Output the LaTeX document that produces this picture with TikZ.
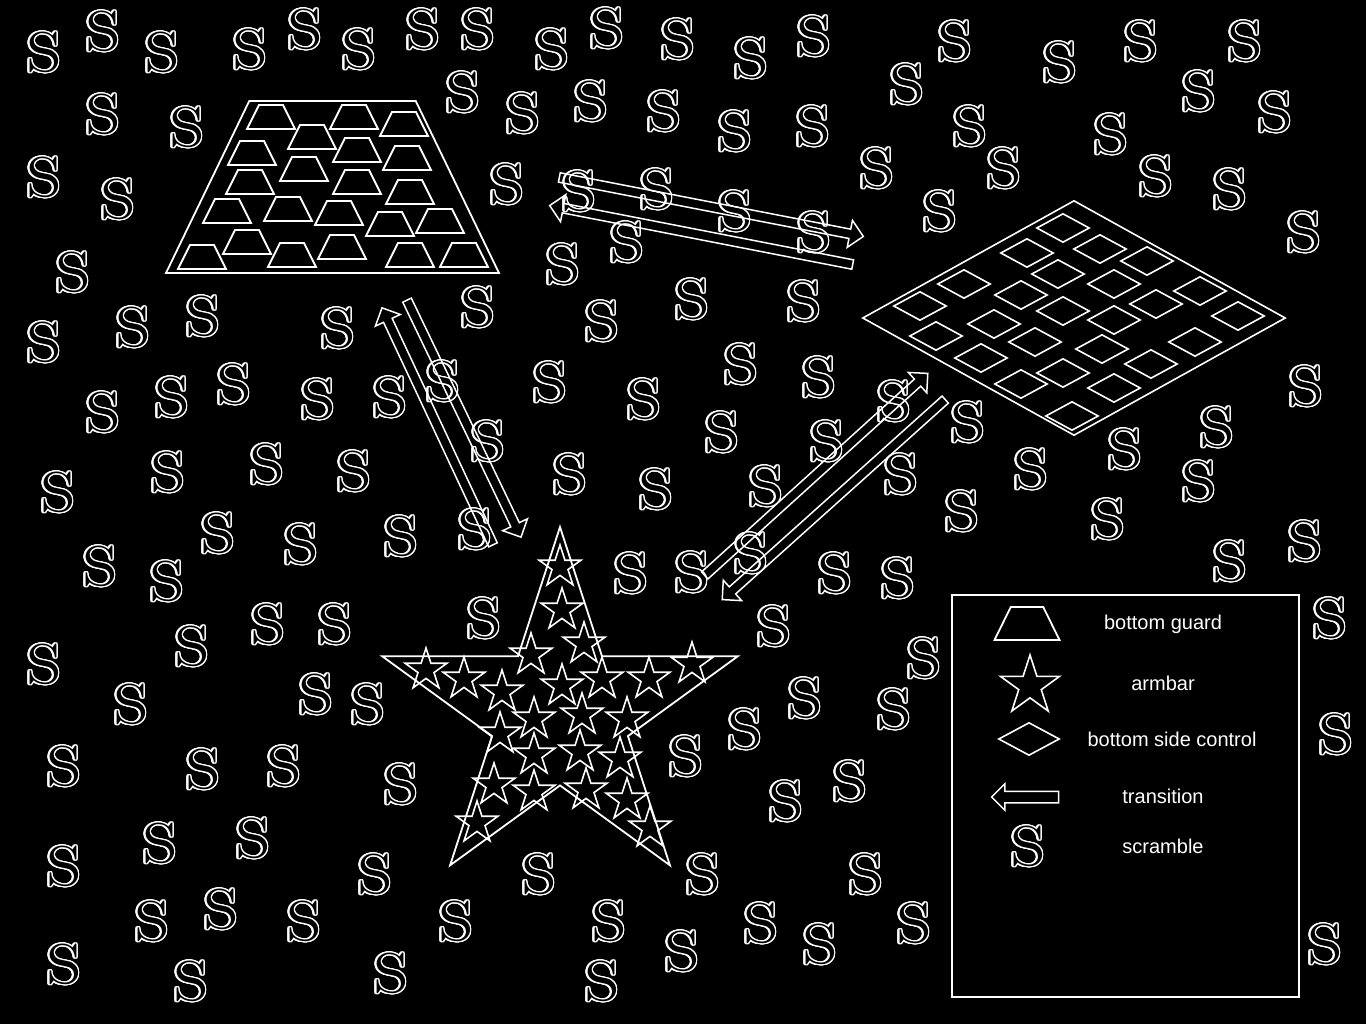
\documentclass[tikz,border=0pt]{standalone}
\usepackage{fontspec}
\usepackage{contour}
\newfontfamily\legendfont{Liberation Sans}
\newfontfamily\scramblefont[FakeStretch=1.15]{lmroman10-regular.otf}
\usetikzlibrary{shapes.geometric, shapes.arrows, calc}
\contourlength{1.3pt}
\contournumber{24}

% hollow transition arrow between two named points
\newcommand{\transition}[2]{%
  \path let \p1=(#1), \p2=(#2),
            \n1={atan2(\y2-\y1,\x2-\x1)}, \n2={veclen(\x2-\x1,\y2-\y1)} in
    node[trans, minimum height=\n2, rotate=\n1] (#1-#2) at ($(#1)!0.5!(#2)$) {};}

\begin{document}
\begin{tikzpicture}[
  x=1pt, y=-1pt,
  every node/.style={inner sep=0pt},
  scr/.style    ={text=black, font=\scramblefont\fontsize{56}{60}\selectfont},
  guard/.pic    ={\draw[white, line width=1.8pt] (-1,0) -- (1,0) -- (0.5,-1) -- (-0.5,-1) -- cycle;},
  armbar/.style ={star, star points=5, star point ratio=2.618, draw=white, inner sep=1pt,
                  line width=1.6pt, minimum size=44pt},
  side/.style   ={diamond, draw=white, line width=1.6pt, inner sep=1pt,
                  minimum width=53pt, minimum height=29pt},
  trans/.style  ={single arrow, single arrow head extend=9pt, single arrow tip angle=90,
                  inner sep=4pt, draw=white, line width=1.5pt},
  legtext/.style={text=white, anchor=base, font=\legendfont\fontsize{20}{24}\selectfont},
]

\path[use as bounding box, fill=black] (0,0) rectangle (1366,1024);

% ------------------------------------------------------------ scrambles
\foreach \sx/\sy [count=\i] in {
  44/53, 103/32, 162/53, 250/50, 305/30, 359/50, 423/30, 478/30, 552/50, 607/29, 678/40,
  751/59, 814/37, 955/42, 1060/63, 1141/42, 1245/42,
  103/115, 187/128, 463/93, 523/114, 591/102, 664/112, 735/132, 813/127, 907/85, 970/127,
  1111/135, 1199/92, 1275/113,
  44/178, 118/200, 507/185, 579/192, 657/190, 735/212, 814/233, 877/169, 1004/169, 1156/177,
  1230/190, 940/212, 1304/233,
  627/243, 563/265, 73/273, 44/343, 133/328, 203/317, 338/329, 478/308, 602/322, 692/300, 804/302,
  103/413, 172/398, 234/385, 318/400, 390/398, 443/382, 550/383, 644/400, 741/365, 819/378,
  894/402, 968/423, 722/433, 827/442, 1306/387, 1217/428, 1125/450, 488/442,
  168/473, 267/465, 354/472, 570/475, 58/493, 656/490, 766/487, 901/475, 1031/470, 1199/482,
  962/512, 1108/520,
  218/534, 301/545, 401/537, 475/530, 100/567, 167/582, 631/574, 692/573, 751/554, 835/574,
  898/579, 1230/562, 1305/542,
  484/619, 268/625, 335/625, 192/647, 44/665, 774/627, 924/659, 1330/619,
  131/705, 316/695, 368/705, 745/730, 805/699, 894/710, 1336/735,
  64/767, 203/770, 284/767, 401/785, 686/757, 786/802, 850/782,
  160/844, 253/839, 64/867, 375/875, 539/875, 703/875, 866/875,
  152/922, 221/910, 304/922, 456/922, 609/922, 761/924, 820/945, 914/924, 1325/945, 682/952,
  64/965, 191/982, 391/974, 602/982}
  \node[scr] (s\i) at (\sx,\sy) {\contour{white}{S}};

% ------------------------------------------------------------ bottom guard
\pic[xscale=166.5, yscale=172] (bguard) at (332.5,273) {guard};
\foreach \gx/\gy [count=\i] in {271/129, 354/129, 404/136, 312/149, 357/162, 252/165, 407/170,
  304/181, 250/194, 357/194, 410/204, 227/223, 288/221, 339/225, 390/236, 440/233,
  247/254, 202/269, 292/267, 342/259, 410/267, 464/267}
  \pic[scale=24] (g\i) at (\gx,\gy) {guard};

% ------------------------------------------------------------ bottom side control
\node[side, minimum width=423pt, minimum height=235pt] (bside) at (1074,318) {};
\foreach \dx/\dy [count=\i] in {1063/228, 1027/253, 1100/249, 1147/261, 964/284, 1058/274,
  1114/284, 1200/291, 920/306, 1021/295, 1156/304, 1063/311, 1238/316, 994/324, 1114/320,
  936/336, 1035/342, 1102/349, 1195/342, 981/358, 1151/364, 1063/373, 1021/384, 1114/388, 1072/416}
  \node[side] (d\i) at (\dx,\dy) {};

% ------------------------------------------------------------ armbar
\node[armbar, minimum size=374pt, line width=1.8pt] (barm) at (560,714) {};
\foreach \ax/\ay [count=\i] in {560/567, 562/610, 584/644, 531/655, 426/670, 464/679, 502/692,
  562/686, 602/679, 649/679, 692/664, 500/734, 534/719, 582/715, 627/719, 534/755, 580/752,
  620/759, 494/785, 534/792, 586/790, 627/800, 477/823, 650/828}
  \node[armbar] (st\i) at (\ax,\ay) {};

% ------------------------------------------------------------ transitions
\coordinate (t1a) at (557,177);  \coordinate (t1b) at (861,236);
\coordinate (t2a) at (855,265);  \coordinate (t2b) at (552,206);
\coordinate (t3a) at (494,547);  \coordinate (t3b) at (383,310);
\coordinate (t4a) at (406,298);  \coordinate (t4b) at (520,535);
\coordinate (t5a) at (703,577);  \coordinate (t5b) at (926,375);
\coordinate (t6a) at (947,398);  \coordinate (t6b) at (724,598);
\transition{t1a}{t1b}
\transition{t2a}{t2b}
\transition{t3a}{t3b}
\transition{t4a}{t4b}
\transition{t5a}{t5b}
\transition{t6a}{t6b}

% ------------------------------------------------------------ legend
\node[draw=white, line width=1.8pt, fill=black, minimum width=347pt, minimum height=402pt] (legend) at (1125.5,796) {};
\pic[xscale=32.5, yscale=33] (lguard) at (1027,640) {guard};
\node[armbar, minimum size=62pt] (larm) at (1030,686) {};
\node[side, minimum width=61pt, minimum height=33pt] (lside) at (1029,739) {};
\node[trans, inner sep=5pt, single arrow head extend=7.5pt, minimum height=67pt, rotate=180] (ltrans) at (1028,797) {};
\node[scr] (lscr) at (1028,847) {\contour{white}{S}};
\node[legtext] at (1163,629)   {bottom guard};
\node[legtext] at (1163,690)   {armbar};
\node[legtext] at (1172,746.5) {bottom side control};
\node[legtext] at (1163,803)   {transition};
\node[legtext] at (1163,853)   {scramble};

\end{tikzpicture}
\end{document}
